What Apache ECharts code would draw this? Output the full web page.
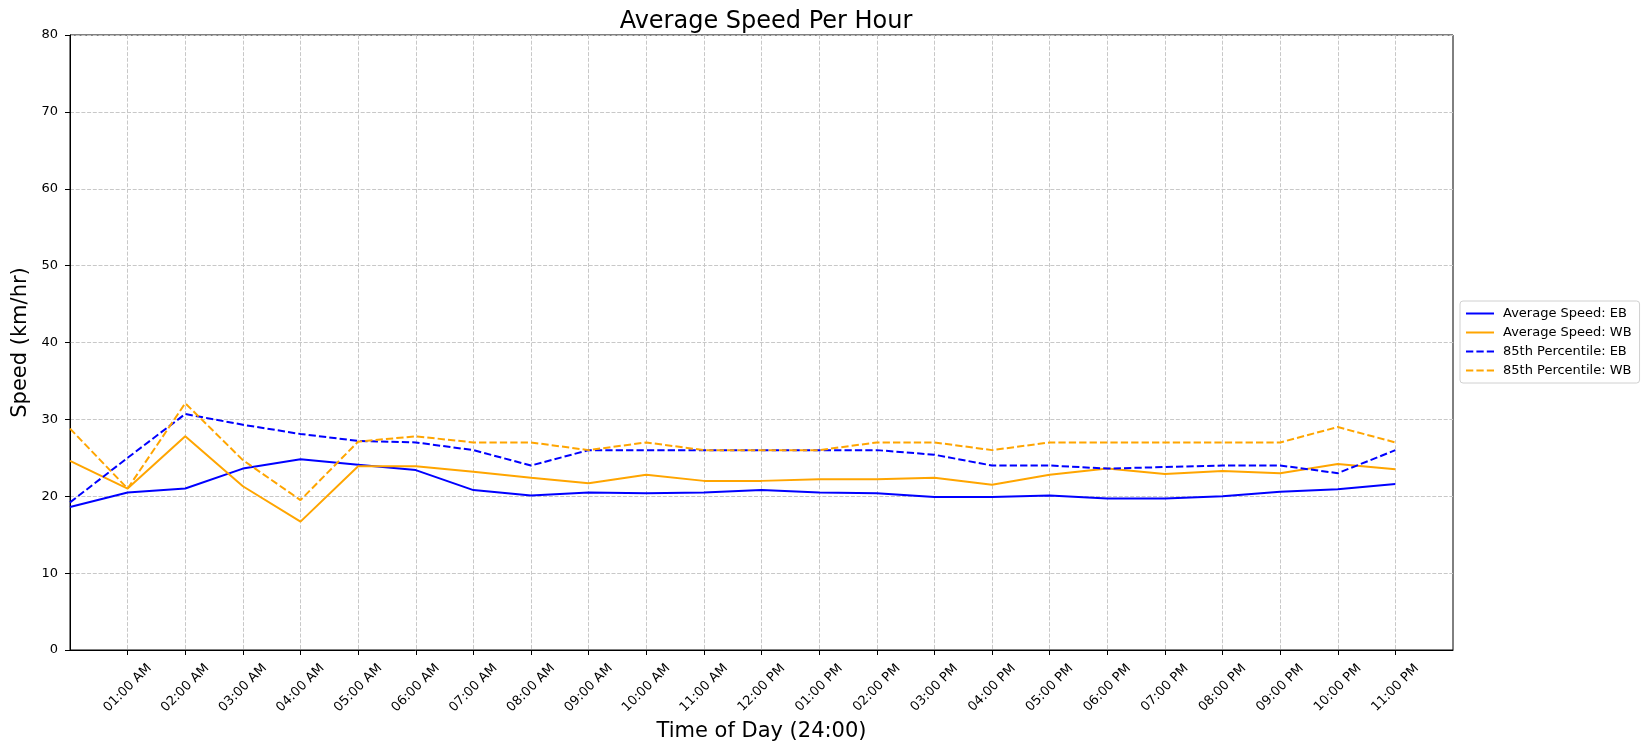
<!DOCTYPE html>
<html>
<head>
<meta charset="UTF-8">
<title>Average Speed Per Hour</title>
<script src="https://cdn.jsdelivr.net/npm/echarts@6/dist/echarts.min.js"></script>
<style>
  body { margin: 0; background: #fff; }
  #chart { width: 1642px; height: 743px; }
</style>
</head>
<body>
<div id="chart"></div>
<script>
// hours of day 0..23
var hours = [0,1,2,3,4,5,6,7,8,9,10,11,12,13,14,15,16,17,18,19,20,21,22,23];
var tickLabels = ["01:00 AM","02:00 AM","03:00 AM","04:00 AM","05:00 AM","06:00 AM","07:00 AM",
  "08:00 AM","09:00 AM","10:00 AM","11:00 AM","12:00 PM","01:00 PM","02:00 PM","03:00 PM",
  "04:00 PM","05:00 PM","06:00 PM","07:00 PM","08:00 PM","09:00 PM","10:00 PM","11:00 PM"];
var tickHours = [1,2,3,4,5,6,7,8,9,10,11,12,13,14,15,16,17,18,19,20,21,22,23];

var avgEB = [18.6,20.5,21.0,23.6,24.8,24.1,23.4,20.8,20.1,20.5,20.4,20.5,20.8,20.5,20.4,19.9,19.9,20.1,19.7,19.7,20.0,20.6,20.9,21.6];
var avgWB = [24.6,21.0,27.8,21.3,16.7,23.9,23.9,23.2,22.4,21.7,22.8,22.0,22.0,22.2,22.2,22.4,21.5,22.8,23.6,22.9,23.3,23.0,24.2,23.5];
var p85EB = [19.2,25.0,30.7,29.3,28.1,27.2,27.0,26.0,24.0,26.0,26.0,26.0,26.0,26.0,26.0,25.4,24.0,24.0,23.6,23.8,24.0,24.0,23.0,26.0];
var p85WB = [28.8,21.0,32.1,24.7,19.5,27.1,27.8,27.0,27.0,26.0,27.0,26.0,26.0,26.0,27.0,27.0,26.0,27.0,27.0,27.0,27.0,27.0,29.0,27.0];

function pairs(vals) {
    var out = [];
    for (var i = 0; i < hours.length; i++) out.push([hours[i], vals[i]]);
    return out;
}

var FONT = 'DejaVu Sans';
var dash = [7.3, 3.1];
var gridDash = [4, 1.7];

var chart = echarts.init(document.getElementById('chart'));
chart.setOption({
    backgroundColor: '#fff',
    animation: false,
    textStyle: { fontFamily: FONT },
    title: {
        text: 'Average Speed Per Hour',
        left: 761,
        textAlign: 'center',
        top: 5,
        textStyle: { fontFamily: FONT, fontSize: 24, fontWeight: 'normal', color: '#000' }
    },
    legend: {
        orient: 'vertical',
        left: 1460,
        top: 301,
        padding: [6, 8, 6, 5],
        itemWidth: 28,
        itemHeight: 14,
        itemGap: 6,
        borderColor: '#d0d0d0',
        borderWidth: 1,
        borderRadius: 3,
        itemStyle: { opacity: 0 },
        textStyle: { fontFamily: FONT, fontSize: 13, color: '#000', padding: [0, 0, 0, 4] },
        data: ['Average Speed: EB', 'Average Speed: WB', '85th Percentile: EB', '85th Percentile: WB']
    },
    grid: {
        left: 70, right: 189, top: 35, bottom: 93,
        outerBoundsMode: 'none',
        containLabel: false,
        show: true, borderColor: '#000', borderWidth: 1
    },
    xAxis: {
        type: 'value',
        min: 0, max: 24, interval: 1,
        name: 'Time of Day (24:00)',
        nameLocation: 'middle',
        nameGap: 67,
        nameTextStyle: { fontFamily: FONT, fontSize: 21, color: '#000' },
        axisLine: { show: true, onZero: false, lineStyle: { color: '#000', width: 1 } },
        axisTick: { show: true, length: 5, lineStyle: { color: '#000' }, customValues: tickHours },
        axisLabel: {
            customValues: tickHours,
            rotate: 45,
            margin: 38,
            align: 'center',
            verticalAlign: 'middle',
            fontFamily: FONT, fontSize: 13, color: '#000',
            formatter: function (v) {
                var i = tickHours.indexOf(v);
                return i >= 0 ? tickLabels[i] : '';
            }
        },
        splitLine: { show: true, lineStyle: { color: '#c8c8c8', type: gridDash, width: 1 } }
    },
    yAxis: {
        type: 'value',
        min: 0, max: 80, interval: 10,
        name: 'Speed (km/hr)',
        nameLocation: 'middle',
        nameGap: 33,
        nameTextStyle: { fontFamily: FONT, fontSize: 21, color: '#000', verticalAlign: 'bottom' },
        axisLine: { show: true, lineStyle: { color: '#000', width: 1 } },
        axisTick: { show: true, length: 5, lineStyle: { color: '#000' } },
        axisLabel: { fontFamily: FONT, fontSize: 13, color: '#000', margin: 12 },
        splitLine: { show: true, lineStyle: { color: '#c8c8c8', type: gridDash, width: 1 } }
    },
    series: [
        { name: 'Average Speed: EB', type: 'line', symbol: 'none', data: pairs(avgEB),
          itemStyle: { color: '#0000ff' }, lineStyle: { color: '#0000ff', width: 2 } },
        { name: 'Average Speed: WB', type: 'line', symbol: 'none', data: pairs(avgWB),
          itemStyle: { color: '#ffa500' }, lineStyle: { color: '#ffa500', width: 2 } },
        { name: '85th Percentile: EB', type: 'line', symbol: 'none', data: pairs(p85EB),
          itemStyle: { color: '#0000ff' }, lineStyle: { color: '#0000ff', width: 2, type: dash } },
        { name: '85th Percentile: WB', type: 'line', symbol: 'none', data: pairs(p85WB),
          itemStyle: { color: '#ffa500' }, lineStyle: { color: '#ffa500', width: 2, type: dash } }
    ]
});
</script>
</body>
</html>
